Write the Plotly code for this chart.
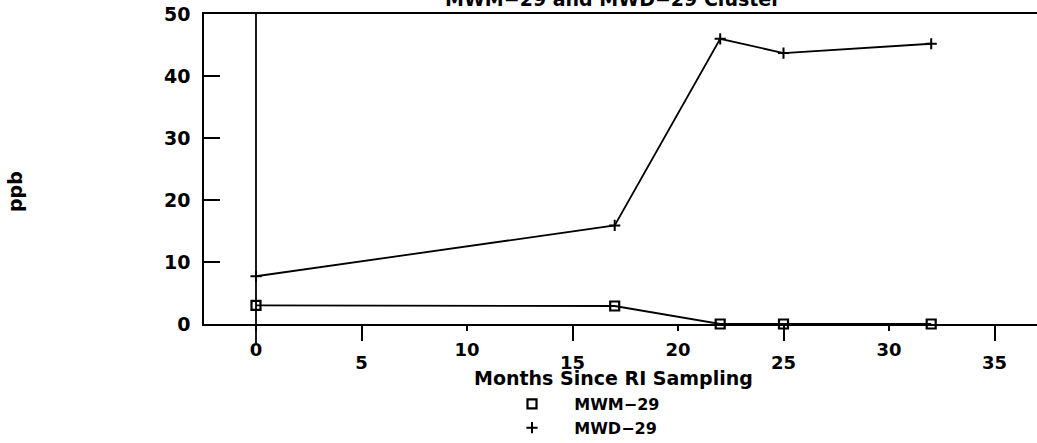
import plotly.graph_objects as go

months = [0, 17, 22, 25, 32]
mwm29 = [3.0, 2.9, 0.0, 0.0, 0.0]
mwd29 = [7.7, 15.9, 46.0, 43.7, 45.2]
x_even_ticks = [0, 10, 20, 30]
x_odd_ticks = [5, 15, 25, 35]
y_ticks = [0, 10, 20, 30, 40, 50]

FONT = "DejaVu Sans"
W, H = 1037, 443
L, T, B = 204, 14, 119
PW, PH = W - L, H - T - B

def px_x(px):
    return (px - L) / PW

def px_y(py):
    return (H - B - py) / PH

fig = go.Figure()
fig.add_trace(go.Scatter(x=months, y=mwm29, mode="lines+markers", showlegend=False,
                         line=dict(color="black", width=1.8),
                         marker=dict(symbol="square-open", size=9, color="black", line=dict(width=2.2)),
                         cliponaxis=False))
fig.add_trace(go.Scatter(x=months, y=mwd29, mode="lines+markers", showlegend=False,
                         xaxis="x2", yaxis="y",
                         line=dict(color="black", width=1.8),
                         marker=dict(symbol="cross-thin-open", size=8, color="black", line=dict(width=2)),
                         cliponaxis=False))
pad = "\u00a0" * 4
fig.add_trace(go.Scatter(x=[None], y=[None], mode="markers", name=pad + "MWM\u221229",
                         marker=dict(symbol="square-open", size=9, color="black", line=dict(width=2.2))))
fig.add_trace(go.Scatter(x=[None], y=[None], mode="markers", name=pad + "MWD\u221229",
                         marker=dict(symbol="cross-thin-open", size=8, color="black", line=dict(width=2))))

xr = [(L - 256) / 21.1, (W - 256) / 21.1]
tf = dict(family=FONT, size=18, weight="bold")
fig.update_layout(
    width=W, height=H,
    margin=dict(l=L, r=0, t=T, b=B, pad=0, autoexpand=False),
    paper_bgcolor="white", plot_bgcolor="white",
    font=dict(family=FONT, size=18, color="black"),
    xaxis=dict(range=xr, tickvals=x_even_ticks, ticktext=[str(v) for v in x_even_ticks],
               ticks="outside", ticklen=5, tickwidth=1.5, tickcolor="black",
               showline=True, linecolor="black", linewidth=1.5, mirror=True,
               showgrid=False, zeroline=False, ticklabelstandoff=4, tickfont=tf),
    xaxis2=dict(range=xr, overlaying="x", anchor="y", side="bottom",
                tickvals=x_odd_ticks, ticktext=[str(v) for v in x_odd_ticks],
                ticks="outside", ticklen=16, tickwidth=1.5, tickcolor="black",
                showline=False, showgrid=False, zeroline=False, ticklabelstandoff=6,
                tickfont=tf),
    yaxis=dict(range=[0, 50], tickvals=y_ticks, ticks="inside", ticklen=16, tickwidth=1.5,
               tickcolor="black", showline=True, linecolor="black", linewidth=1.5, mirror=False,
               showgrid=False, zeroline=False, ticklabelstandoff=8,
               tickfont=dict(family=FONT, size=19, weight="bold")),
    legend=dict(x=px_x(512), y=1 - 387 / H, yref="container", xanchor="left", yanchor="top",
                bgcolor="rgba(0,0,0,0)", borderwidth=0, tracegroupgap=0,
                font=dict(family=FONT, size=16, weight="bold")),
    showlegend=True,
)
fig.add_shape(type="line", xref="x", yref="paper", x0=0, x1=0, y0=-19 / PH, y1=1,
              line=dict(color="black", width=1.8))
fig.add_annotation(text="MWM\u221229 and MWD\u221229 Cluster", xref="paper", yref="paper",
                   x=px_x(613), y=1, xanchor="center", yanchor="bottom", yshift=2,
                   showarrow=False, font=dict(family=FONT, size=19, weight="bold"))
fig.add_annotation(text="Months Since RI Sampling", xref="paper", yref="paper",
                   x=px_x(613), y=px_y(378), xanchor="center", yanchor="middle",
                   showarrow=False, font=dict(family=FONT, size=19, weight="bold"))
fig.add_annotation(text="ppb", xref="paper", yref="paper", textangle=-90,
                   x=px_x(15), y=px_y(192), xanchor="center", yanchor="middle",
                   showarrow=False, font=dict(family=FONT, size=19, weight="bold"))

fig.write_html("out.html")
